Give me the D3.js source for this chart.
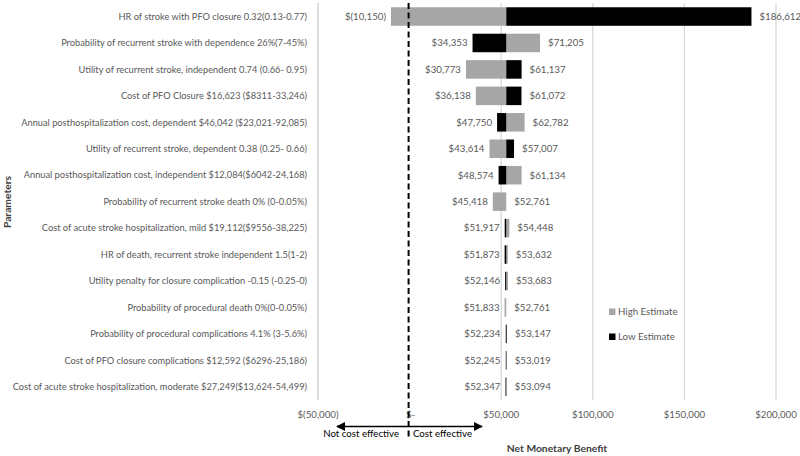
<!DOCTYPE html>
<html>
<head>
<meta charset="utf-8">
<script src="https://cdn.jsdelivr.net/npm/d3@7"></script>
<style>
  html, body { margin: 0; padding: 0; background: #fff; }
  svg { display: block; font-family: Lato, "Open Sans", sans-serif; }
</style>
</head>
<body>
<svg id="chart" width="800" height="456"></svg>
<script>
const categories = [
  "HR of stroke with PFO closure 0.32(0.13-0.77)",
  "Probability of recurrent stroke with dependence 26%(7-45%)",
  "Utility of recurrent stroke, independent 0.74 (0.66- 0.95)",
  "Cost of PFO Closure $16,623 ($8311-33,246)",
  "Annual posthospitalization cost, dependent $46,042 ($23,021-92,085)",
  "Utility of recurrent stroke, dependent 0.38 (0.25- 0.66)",
  "Annual posthospitalization cost, independent $12,084($6042-24,168)",
  "Probability of recurrent stroke death 0% (0-0.05%)",
  "Cost of acute stroke hospitalization, mild $19,112($9556-38,225)",
  "HR of death, recurrent stroke independent 1.5(1-2)",
  "Utility penalty for closure complication -0.15 (-0.25-0)",
  "Probability of procedural death 0%(0-0.05%)",
  "Probability of procedural complications 4.1% (3-5.6%)",
  "Cost of PFO closure complications $12,592 ($6296-25,186)",
  "Cost of acute stroke hospitalization, moderate $27,249($13,624-54,499)"
];
const highEstimate = [-10150, 71205, 30773, 36138, 62782, 43614, 61134, 45418, 54448, 53632, 53683, 51833, 52234, 52245, 53094];
const lowEstimate  = [186612, 34353, 61137, 61072, 47750, 57007, 48574, 52761, 51917, 51873, 52146, 52761, 53147, 53019, 52347];
const baseline = 52761;
const tickValues = [-50000, 0, 50000, 100000, 150000, 200000];
const tickLabels = ["$(50,000)", "$-", "$50,000", "$100,000", "$150,000", "$200,000"];
const seriesNames = ["High Estimate", "Low Estimate"];
const seriesColors = ["#a6a6a6", "#000000"];

const svg = d3.select("#chart");
const x = d3.scaleLinear().domain([-50000, 200000]).range([318, 776]);
const y = d3.scaleBand().domain(categories).range([3.3, 400]).paddingInner(0.3).paddingOuter(0.15);

const fmt = d3.format(",");
const money = v => v < 0 ? "$(" + fmt(-v) + ")" : "$" + fmt(v);
const textColor = "#595959";
const fs = 9.7;
const catFs = 9.25;

// gridlines
svg.append("g").selectAll("line").data(tickValues.filter(v => v !== 0)).join("line")
  .attr("x1", d => x(d)).attr("x2", d => x(d))
  .attr("y1", 3).attr("y2", 400)
  .attr("stroke", "#d9d9d9").attr("stroke-width", 1.3);

// tick labels
svg.append("g").selectAll("text").data(tickValues).join("text")
  .attr("x", d => x(d) + (d === 0 ? 1 : 0)).attr("y", 415)
  .attr("dy", "0.35em").attr("text-anchor", "middle")
  .attr("font-size", fs).attr("fill", textColor)
  .text((d, i) => tickLabels[i]);

// category labels
svg.append("g").selectAll("text").data(categories).join("text")
  .attr("x", 307).attr("y", d => y(d) + y.bandwidth() / 2)
  .attr("dy", "0.35em").attr("text-anchor", "end")
  .attr("font-size", catFs).attr("fill", textColor)
  .text(d => d);

// bars
const rows = categories.map((c, i) => ({ c, hi: highEstimate[i], lo: lowEstimate[i] }));
const barG = svg.append("g");
rows.forEach(r => {
  [[r.hi, 0], [r.lo, 1]].forEach(([v, s]) => {
    const x0 = Math.min(x(baseline), x(v)), x1 = Math.max(x(baseline), x(v));
    if (x1 - x0 < 0.01) return;
    barG.append("rect")
      .attr("x", x0).attr("width", x1 - x0)
      .attr("y", y(r.c)).attr("height", y.bandwidth())
      .attr("fill", seriesColors[s]);
  });
  const vmin = Math.min(r.hi, r.lo), vmax = Math.max(r.hi, r.lo);
  const cy = y(r.c) + y.bandwidth() / 2;
  barG.append("text").attr("x", x(vmin) - 5).attr("y", cy).attr("dy", "0.35em")
    .attr("text-anchor", "end").attr("font-size", fs).attr("fill", textColor)
    .text(money(vmin));
  barG.append("text").attr("x", x(vmax) + 8).attr("y", cy).attr("dy", "0.35em")
    .attr("text-anchor", "start").attr("font-size", fs).attr("fill", textColor)
    .text(money(vmax));
});

// left axis line
svg.append("line").attr("x1", 318).attr("x2", 318).attr("y1", 3).attr("y2", 400)
  .attr("stroke", "#d9d9d9").attr("stroke-width", 1.3);

// dashed zero line
svg.append("line").attr("x1", x(0) - 1).attr("x2", x(0) - 1).attr("y1", 3).attr("y2", 438)
  .attr("stroke", "#000").attr("stroke-width", 2).attr("stroke-dasharray", "6,3.5");

// arrow
const defs = svg.append("defs");
defs.append("marker").attr("id", "ah").attr("viewBox", "0 0 10 10").attr("refX", 9).attr("refY", 5)
  .attr("markerWidth", 7).attr("markerHeight", 7).attr("orient", "auto-start-reverse")
  .append("path").attr("d", "M0,0 L10,5 L0,10 Z").attr("fill", "#000");
svg.append("line").attr("x1", 337).attr("x2", 482).attr("y1", 426.5).attr("y2", 426.5)
  .attr("stroke", "#000").attr("stroke-width", 1.3)
  .attr("marker-start", "url(#ah)").attr("marker-end", "url(#ah)");

svg.append("text").attr("x", 399).attr("y", 437).attr("text-anchor", "end")
  .attr("font-size", fs).attr("fill", "#000").text("Not cost effective");
svg.append("text").attr("x", 413).attr("y", 437).attr("text-anchor", "start")
  .attr("font-size", fs).attr("fill", "#000").text("Cost effective");

// axis titles
svg.append("text").attr("x", 557).attr("y", 448).attr("dy", "0.35em").attr("text-anchor", "middle")
  .attr("font-size", 10.3).attr("font-weight", "bold").attr("fill", "#404040").text("Net Monetary Benefit");
svg.append("text").attr("transform", "translate(7,202) rotate(-90)").attr("dy", "0.35em")
  .attr("text-anchor", "middle").attr("font-size", 10.3).attr("font-weight", "bold")
  .attr("fill", "#404040").text("Parameters");

// legend
const leg = svg.append("g").selectAll("g").data(seriesNames).join("g")
  .attr("transform", (d, i) => `translate(609, ${312 + i * 25})`);
leg.append("rect").attr("x", 0).attr("y", -3.5).attr("width", 6.5).attr("height", 6.5)
  .attr("fill", (d, i) => seriesColors[i]);
leg.append("text").attr("x", 9).attr("y", 0).attr("dy", "0.35em")
  .attr("font-size", fs).attr("fill", textColor).text(d => d);
</script>
</body>
</html>
